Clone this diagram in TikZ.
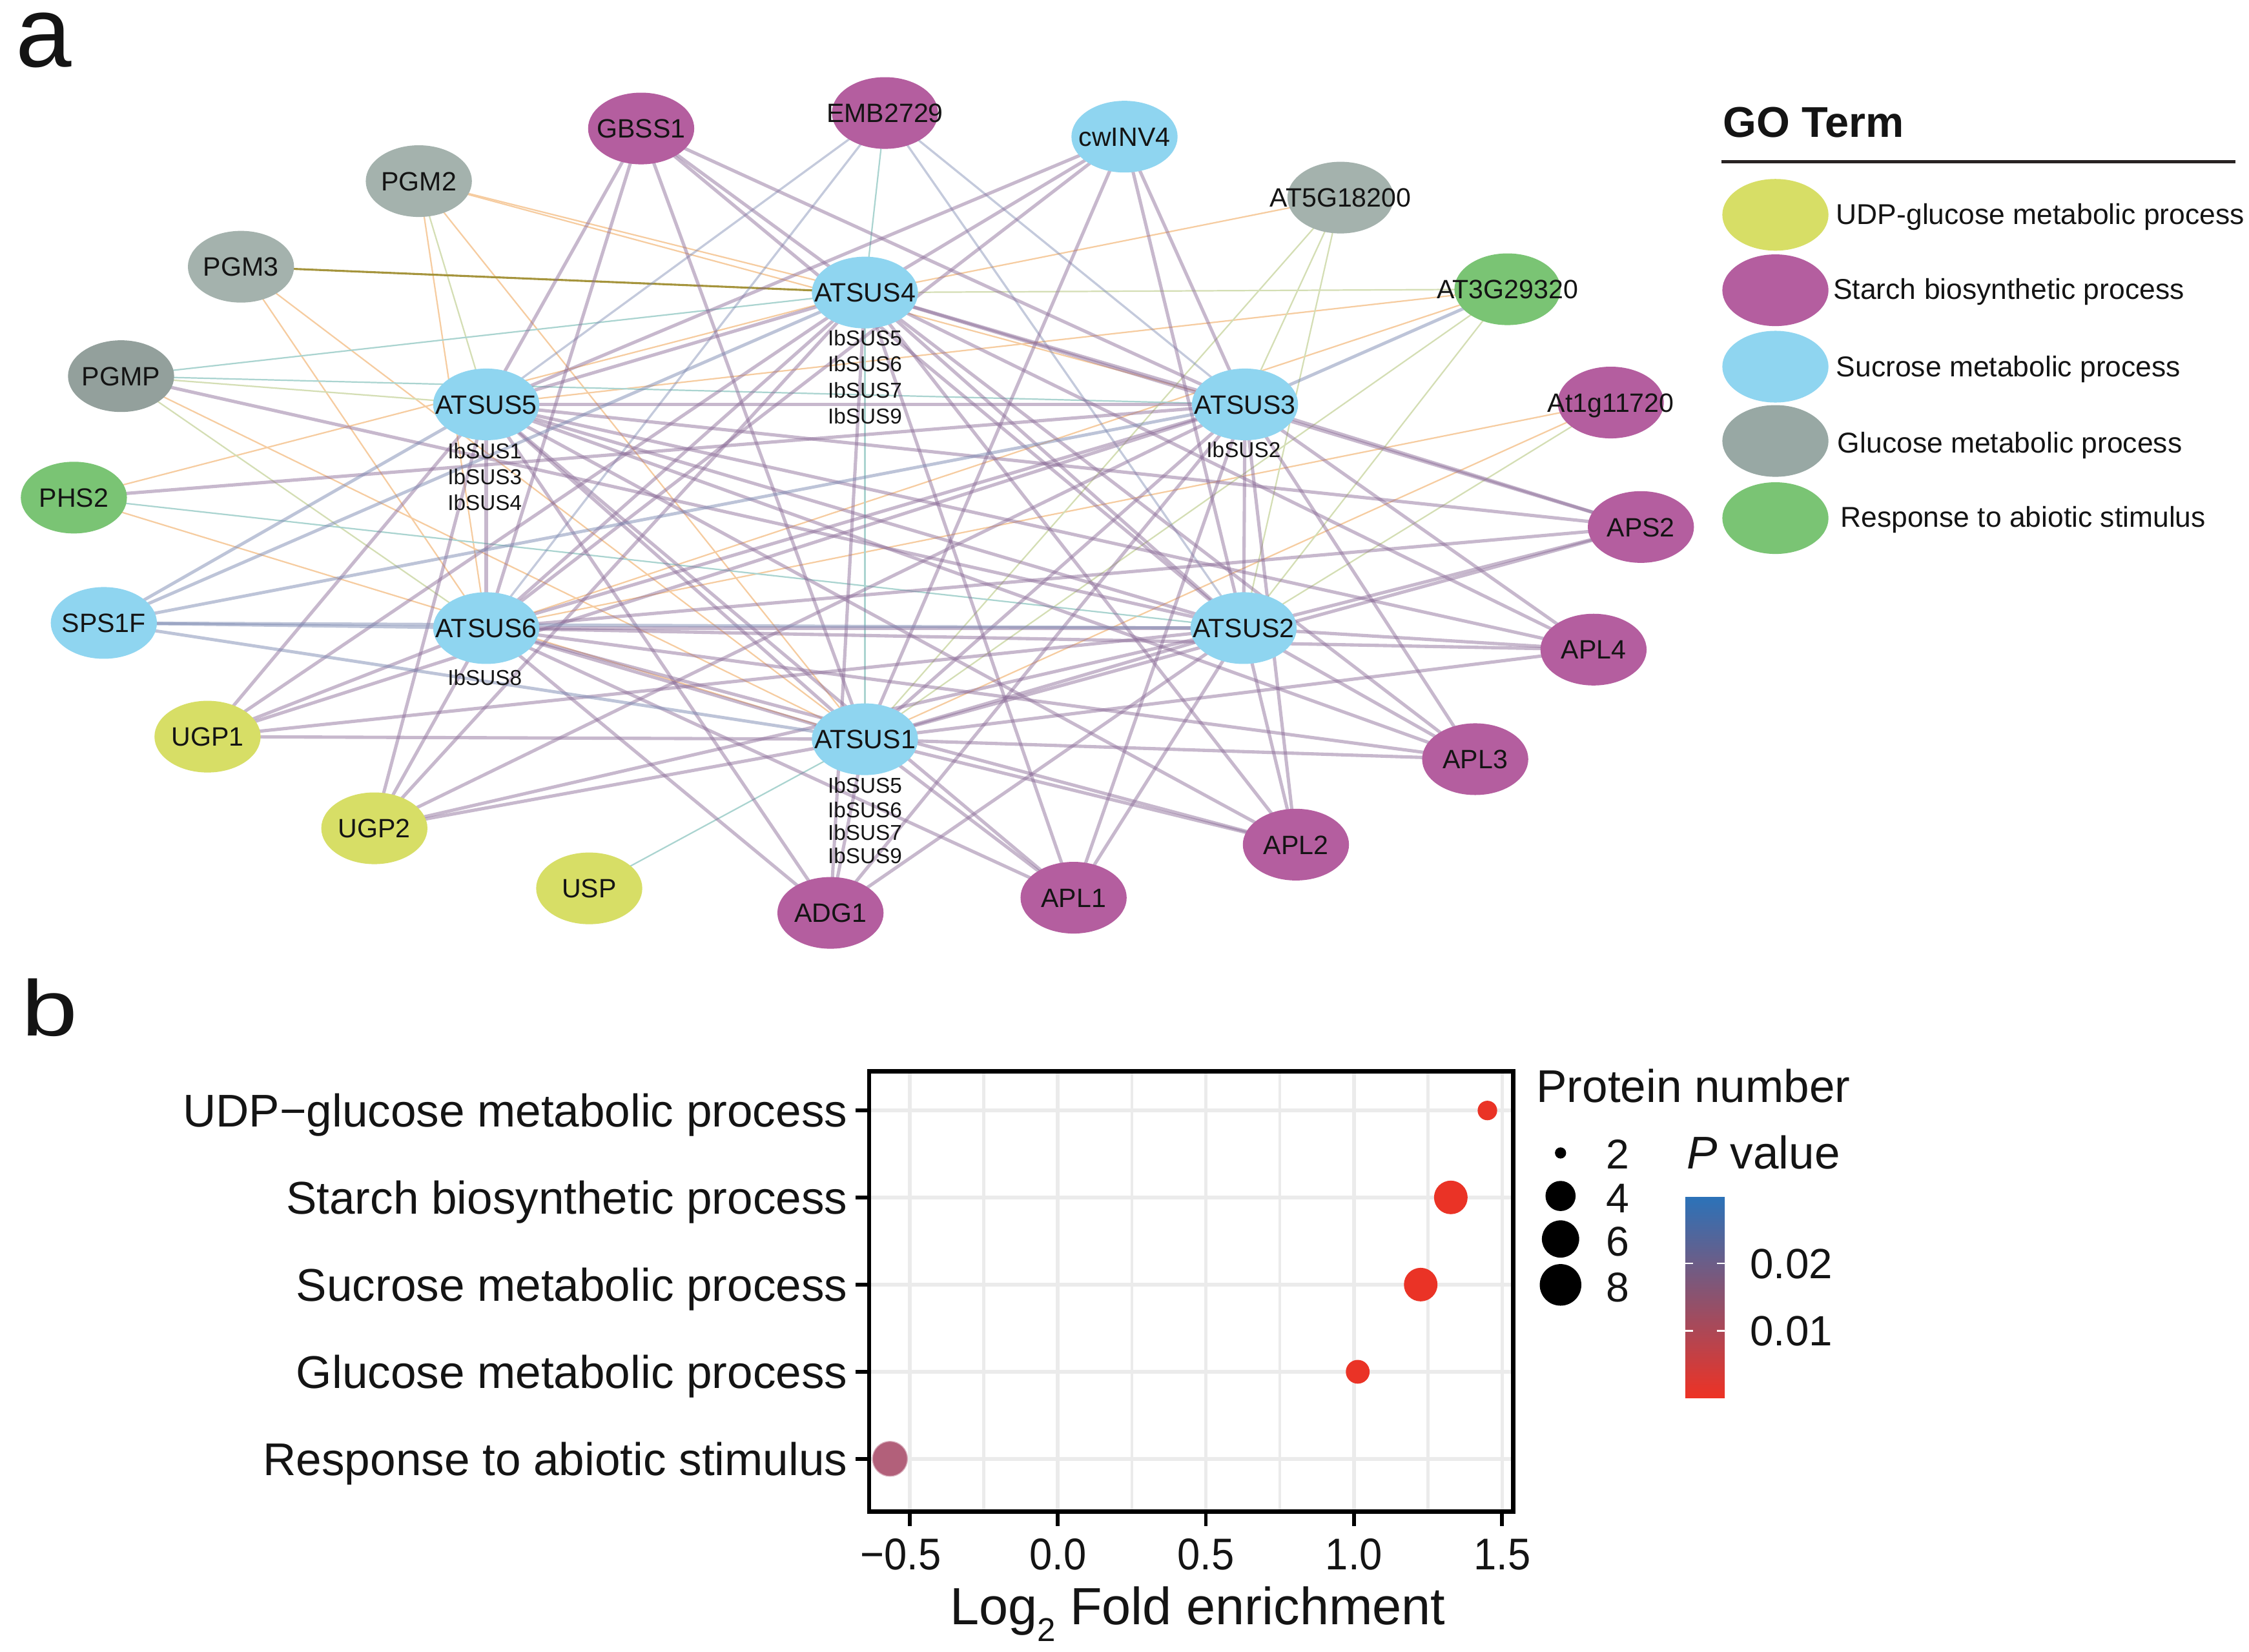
\documentclass[tikz,border=0pt]{standalone}
\usepackage{fontspec}
\setmainfont{Liberation Sans}
\newfontfamily\tickfont[FakeStretch=0.92]{Liberation Sans}
\newfontfamily\bfont[FakeStretch=1.28]{Liberation Sans}
\usetikzlibrary{shapes.geometric}
\pgfdeclarelayer{bg}
\pgfsetlayers{bg,main}
\definecolor{cMag}{RGB}{180,94,159}
\definecolor{cBlue}{RGB}{143,213,240}
\definecolor{cGray}{RGB}{164,178,173}
\definecolor{cGrayD}{RGB}{147,160,156}
\definecolor{cGrayL}{RGB}{152,168,164}
\definecolor{cGreen}{RGB}{122,196,116}
\definecolor{cYel}{RGB}{215,222,102}
\definecolor{ePurC}{RGB}{140,108,152}
\definecolor{eBluC}{RGB}{125,138,178}
\definecolor{eOrC}{RGB}{246,204,160}
\definecolor{eGrC}{RGB}{212,222,180}
\definecolor{eTeC}{RGB}{170,212,208}
\definecolor{eOlC}{RGB}{165,148,60}
\definecolor{txt}{RGB}{20,20,20}
\definecolor{ptRed}{RGB}{234,51,38}
\definecolor{ptMauve}{RGB}{178,96,122}
\definecolor{gridC}{RGB}{235,235,235}
\definecolor{cbBlue}{RGB}{44,114,184}
\definecolor{cbMid}{RGB}{165,95,130}
\definecolor{cbRed}{RGB}{238,50,36}
\tikzset{
  gnode/.style={ellipse, minimum width=74pt, minimum height=50pt, inner sep=0pt, draw=none},
  glabel/.style={font=\fontsize{18.5}{20}\selectfont, inner sep=0pt, text=txt, anchor=base},
  sublbl/.style={font=\fontsize{15}{16}\selectfont, inner sep=0pt, text=txt, anchor=base},
  legtxt/.style={font=\fontsize{20}{24}\selectfont, inner sep=0pt, text=txt, anchor=base west},
  ePur/.style={draw=ePurC, draw opacity=0.48, line width=2.3pt},
  eBlu/.style={draw=eBluC, draw opacity=0.5, line width=2.2pt},
  eBluT/.style={draw=eBluC, draw opacity=0.45, line width=1.5pt},
  eOr/.style={draw=eOrC, line width=1pt},
  eGr/.style={draw=eGrC, line width=1pt},
  eTe/.style={draw=eTeC, line width=1pt},
  eOl/.style={draw=eOlC, line width=1.4pt},
  ylab/.style={font=\fontsize{32}{34}\selectfont, inner sep=0pt, text=txt, anchor=base east},
  xtick/.style={font=\tickfont\fontsize{31}{32}\selectfont, inner sep=0pt, text=txt, anchor=base},
  leglab/.style={font=\fontsize{32}{34}\selectfont, inner sep=0pt, text=txt, anchor=base west},
  numlab/.style={font=\fontsize{29}{30}\selectfont, inner sep=0pt, text=txt, anchor=base},
  cblab/.style={font=\fontsize{29.5}{30}\selectfont, inner sep=0pt, text=txt, anchor=base west},
  gmaj/.style={draw=gridC, line width=2.5pt},
  gmin/.style={draw=gridC, line width=2pt},
  dot/.style={circle, inner sep=0pt, draw=none},
}
\newcommand{\gn}[5]{%
  \node[gnode, fill=#4] (#1) at (#2,#3) {};
  \node[glabel] (#1-t) at ([yshift=-6.6pt]#1.center) {#5};}
\begin{document}
\begin{tikzpicture}[x=1pt,y=-1pt]
\useasboundingbox (0,0) rectangle (1568,1152);
\begin{pgfonlayer}{bg}
\fill[white] (0,0) rectangle (1568,1152);
\end{pgfonlayer}

% panel letters
\node[font=\fontsize{70}{70}\selectfont, inner sep=0pt, text height=0.56em, text depth=0pt, anchor=base west, text=txt] (pa) at (11,46.5) {a};
\node[font=\bfont\fontsize{55}{56}\selectfont, inner sep=0pt, anchor=base west, text=txt] (pb) at (15,722.5) {b};

% ---------------- network nodes ----------------
\gn{gbss}{447}{89.6}{cMag}{GBSS1}
\gn{emb}{617}{78.8}{cMag}{EMB2729}
\gn{cwinv}{784}{95.3}{cBlue}{cwINV4}
\gn{pgmB}{292}{126.3}{cGray}{PGM2}
\gn{atfive}{934.6}{137.8}{cGray}{AT5G18200}
\gn{pgmC}{168}{186}{cGray}{PGM3}
\gn{sD}{603}{204}{cBlue}{ATSUS4}
\gn{atthree}{1051}{201.7}{cGreen}{AT3G29320}
\gn{pgmp}{84.4}{262.3}{cGrayD}{PGMP}
\gn{sE}{339}{282}{cBlue}{ATSUS5}
\gn{sC}{868}{282}{cBlue}{ATSUS3}
\gn{atone}{1123}{280.7}{cMag}{At1g11720}
\gn{phs}{51.5}{347}{cGreen}{PHS2}
\gn{aps}{1144}{367.5}{cMag}{APS2}
\gn{sps}{72.4}{434.4}{cBlue}{SPS1F}
\gn{sF}{339}{438}{cBlue}{ATSUS6}
\gn{sB}{867}{438}{cBlue}{ATSUS2}
\gn{aplD}{1111}{453}{cMag}{APL4}
\gn{ugpA}{144.7}{513.7}{cYel}{UGP1}
\gn{sA}{603}{515.5}{cBlue}{ATSUS1}
\gn{aplC}{1028.5}{529.4}{cMag}{APL3}
\gn{ugpB}{261}{577.6}{cYel}{UGP2}
\gn{aplB}{903.5}{589}{cMag}{APL2}
\gn{usp}{410.8}{619.5}{cYel}{USP}
\gn{aplA}{748.5}{626}{cMag}{APL1}
\gn{adg}{579}{636.6}{cMag}{ADG1}

% sub labels
\node[sublbl] (sD1) at (603,241) {IbSUS5};
\node[sublbl] (sD2) at (603,259) {IbSUS6};
\node[sublbl] (sD3) at (603,277.5) {IbSUS7};
\node[sublbl] (sD4) at (603,295.5) {IbSUS9};
\node[sublbl] (sE1) at (338,320) {IbSUS1};
\node[sublbl] (sE2) at (338,338) {IbSUS3};
\node[sublbl] (sE3) at (338,356) {IbSUS4};
\node[sublbl] (sC1) at (867,319) {IbSUS2};
\node[sublbl] (sF1) at (338,478) {IbSUS8};
\node[sublbl] (sA1) at (603,553) {IbSUS5};
\node[sublbl] (sA2) at (603,570) {IbSUS6};
\node[sublbl] (sA3) at (603,586) {IbSUS7};
\node[sublbl] (sA4) at (603,602) {IbSUS9};

% ---------------- edges ----------------
\begin{pgfonlayer}{bg}
% thin edges
\foreach \a/\b in {phs/sA, phs/sD, pgmp/sA, pgmB/sF, pgmB/sD, pgmB/sC, pgmB/sA, pgmC/sF, pgmC/sA, atfive/sD, atthree/sE, atthree/sF, atone/sF, atone/sA}
  \draw[eOr] (\a.center) -- (\b.center);
\foreach \a/\b in {pgmp/sE, pgmp/sF, pgmB/sE, atfive/sC, atfive/sB, atfive/sA, atthree/sD, atthree/sB, atthree/sA, atone/sB}
  \draw[eGr] (\a.center) -- (\b.center);
\foreach \a/\b in {sD/sA, emb/sD, phs/sB, pgmp/sD, pgmp/sC, usp/sA}
  \draw[eTe] (\a.center) -- (\b.center);
\draw[eOl] (pgmC.center) -- (sD.center);
\foreach \a/\b in {emb/sE, emb/sF, emb/sC, emb/sB}
  \draw[eBluT] (\a.center) -- (\b.center);
% thick edges
\foreach \a/\b in {sE/sF, sE/sC, sE/sB, sE/sA, sE/sD, sF/sC, sF/sB, sF/sA, sF/sD, sD/sC, sD/sB, sC/sB, sC/sA, sB/sA, phs/sC, pgmp/sB}
  \draw[ePur] (\a.center) -- (\b.center);
\foreach \p in {gbss, cwinv, adg, aplA, aplB, aplC, aplD, aps, ugpA, ugpB}
  \foreach \h in {sA, sB, sC, sD, sE, sF}
    \draw[ePur] (\p.center) -- (\h.center);
\foreach \h in {sA, sB, sC, sD, sE, sF}
  \draw[eBlu] (sps.center) -- (\h.center);
\draw[eBlu] (atthree.center) -- (sC.center);
\end{pgfonlayer}

% ---------------- GO legend ----------------
\node[font=\bfseries\fontsize{30}{32}\selectfont, inner sep=0pt, anchor=base west, text=txt] (goT) at (1201,95.5) {GO Term};
\coordinate (goL) at (1200,112.7);
\coordinate (goR) at (1558.6,112.7);
\draw[line width=2.3pt, draw={rgb,255:red,40;green,35;blue,35}] (goL) -- (goR);
\node[gnode, fill=cYel] (lg1) at (1237.8,149.8) {};
\node[gnode, fill=cMag] (lg2) at (1237.8,202.4) {};
\node[gnode, fill=cBlue] (lg3) at (1237.8,255.7) {};
\node[gnode, fill=cGrayL] (lg4) at (1237.8,307.5) {};
\node[gnode, fill=cGreen] (lg5) at (1237.8,361.3) {};
\node[legtxt] (lt1) at (1280,156.4) {UDP-glucose metabolic process};
\node[legtxt] (lt2) at (1278,208.5) {Starch biosynthetic process};
\node[legtxt] (lt3) at (1280,262.8) {Sucrose metabolic process};
\node[legtxt] (lt4) at (1281,316) {Glucose metabolic process};
\node[legtxt] (lt5) at (1283,367.7) {Response to abiotic stimulus};

% ---------------- dot plot ----------------
\foreach \v in {-0.25,0.25,0.75,1.25}
  \draw[gmin] ({737.5+206.5*\v},747) -- ({737.5+206.5*\v},1054);
\foreach \v in {-0.5,0,0.5,1,1.5}
  \draw[gmaj] ({737.5+206.5*\v},747) -- ({737.5+206.5*\v},1054);
\foreach \yy in {774.4,835,895.8,956.6,1017.3}
  \draw[gmaj] (606,\yy) -- (1055,\yy);
\node[dot, fill=ptRed, minimum size=13.6pt] (pUDP) at (1037,774.4) {};
\node[dot, fill=ptRed, minimum size=23.4pt] (pSta) at (1011.5,835) {};
\node[dot, fill=ptRed, minimum size=23.4pt] (pSuc) at (990.5,895.8) {};
\node[dot, fill=ptRed, minimum size=16.6pt] (pGlu) at (946.6,956.6) {};
\node[dot, fill=ptMauve, minimum size=24.4pt, draw={rgb,255:red,215;green,170;blue,185}, line width=0.6pt] (pRes) at (620.5,1017.3) {};
\draw[line width=3pt, draw=black] (606,747) rectangle (1055,1054);
\foreach \yy in {774.4,835,895.8,956.6,1017.3}
  \draw[line width=2.6pt] (596.5,\yy) -- (606,\yy);
\node[ylab] (yl1) at (591,785.9) {UDP−glucose metabolic process};
\node[ylab] (yl2) at (591,846.5) {Starch biosynthetic process};
\node[ylab] (yl3) at (591,907.3) {Sucrose metabolic process};
\node[ylab] (yl4) at (591,968.1) {Glucose metabolic process};
\node[ylab] (yl5) at (591,1028.8) {Response to abiotic stimulus};
\foreach \v in {-0.5,0,0.5,1,1.5}
  \draw[line width=2.6pt] ({737.5+206.5*\v},1054) -- ({737.5+206.5*\v},1064);
\node[xtick] (xt1) at (628,1094.5) {−0.5};
\node[xtick] (xt2) at (737.5,1094.5) {0.0};
\node[xtick] (xt3) at (840.75,1094.5) {0.5};
\node[xtick] (xt4) at (944,1094.5) {1.0};
\node[xtick] (xt5) at (1047.25,1094.5) {1.5};
\node[font=\fontsize{36.5}{38}\selectfont, inner sep=0pt, anchor=base, text=txt] (xtitle) at (835,1133) {Log\raisebox{-0.32em}{\fontsize{23}{23}\selectfont 2} Fold enrichment};

% size legend
\node[leglab] (pnT) at (1071,768.5) {Protein number};
\node[dot, fill=black, minimum size=7.8pt] (sz2) at (1088,804) {};
\node[dot, fill=black, minimum size=21pt] (sz4) at (1088,834) {};
\node[dot, fill=black, minimum size=26pt] (sz6) at (1088,864) {};
\node[dot, fill=black, minimum size=29pt] (sz8) at (1088,896) {};
\node[numlab] (n2) at (1128,815) {2};
\node[numlab] (n4) at (1128,845.5) {4};
\node[numlab] (n6) at (1128,875.7) {6};
\node[numlab] (n8) at (1128,908) {8};

% colour bar
\node[leglab] (pvT) at (1176,815) {\textit{P} value};
\shade[top color=cbBlue, middle color=cbMid, bottom color=cbRed] (1175,835) rectangle (1202.5,975);
\draw[white, line width=1pt] (1175,881) -- (1180.5,881) (1197,881) -- (1202.5,881);
\draw[white, line width=1pt] (1175,928) -- (1180.5,928) (1197,928) -- (1202.5,928);
\node[cblab] (cb2) at (1220,891.5) {0.02};
\node[cblab] (cb1) at (1220,938.5) {0.01};
\end{tikzpicture}
\end{document}
